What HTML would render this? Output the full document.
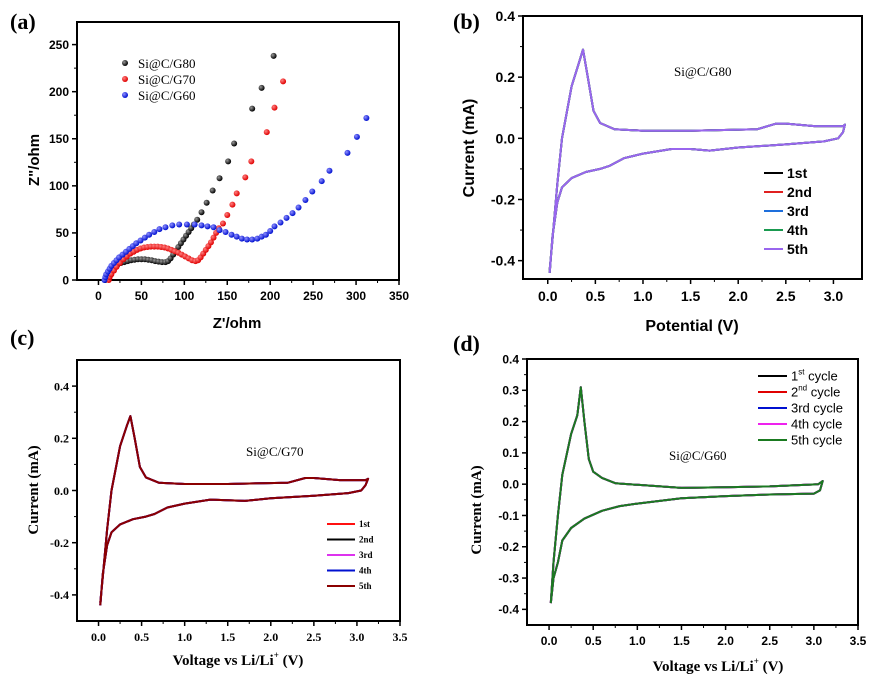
<!DOCTYPE html>
<html><head><meta charset="utf-8"><style>
body{margin:0;background:#fff;width:884px;height:681px;overflow:hidden}
svg{display:block}
.sans{font-family:"Liberation Sans",sans-serif;font-weight:bold}
.serif{font-family:"Liberation Serif",serif}
</style></head><body>
<svg id="fig" width="884" height="681" xmlns="http://www.w3.org/2000/svg">
<defs>
<radialGradient id="gk" cx="35%" cy="35%" r="65%"><stop offset="0" stop-color="#999"/><stop offset="1" stop-color="#000"/></radialGradient>
<radialGradient id="gr" cx="35%" cy="35%" r="65%"><stop offset="0" stop-color="#ff8080"/><stop offset="1" stop-color="#e00000"/></radialGradient>
<radialGradient id="gb" cx="35%" cy="35%" r="65%"><stop offset="0" stop-color="#9090ff"/><stop offset="1" stop-color="#0010d0"/></radialGradient>
</defs>
</svg>
<script>
// ---- Panel (a) EIS data ----
const eisG80 = [[8,0],[9,3],[11,6],[13,9],[16,12],[19,14],[22,16],[26,18],[30,19],[34,20],[38,21],[42,21.5],[46,22],[50,22],[54,22],[58,21.5],[62,21],[66,20],[70,19.5],[74,19],[78,19],[81,20],[84,23],[87,27],[90,31],[93,35],[96,39],[99,43],[102,47],[105,51],[108,55],[111,59],[115,64],[120,72],[126,82],[133,95],[141,108],[151,126],[158,145],[179,182],[190,204],[204,238]];
const eisG70 = [[12,0],[13,3],[15,6],[18,10],[21,14],[25,18],[29,22],[33,25],[37,28],[41,30],[45,32],[49,33.5],[53,34.5],[57,35],[61,35.5],[65,35.5],[69,35.5],[73,35],[77,34.5],[81,33.5],[85,32],[89,30.5],[93,29],[97,27],[101,25],[105,23],[109,21],[113,20],[116,21],[119,24],[122,28],[125,32],[128,36],[131,40],[134,45],[137,50],[140,55],[145,60],[150,69],[156,80],[161,92],[171,109],[178,126],[196,157],[205,183],[215,211]];
const eisG60 = [[7,0],[8,3],[9,6],[11,9],[13,12],[15,15],[18,18],[21,21],[24,24],[28,27],[32,30],[36,33],[40,36],[44,39],[49,42],[54,45],[59,48],[65,51],[71,54],[78,56],[86,58],[94,59],[103,59],[112,59],[120,58],[127,57],[134,56],[141,53],[148,51],[155,48],[161,46],[167,44],[173,43],[179,43],[185,44],[190,46],[195,48],[200,52],[205,57],[212,61],[219,66],[226,71],[233,77],[241,85],[249,94],[260,105],[269,116],[290,135],[301,152],[312,172]];
const aXTicks = [0,50,100,150,200,250,300,350];
const aYTicks = [0,50,100,150,200,250];
const aLegend = ["Si@C/G80","Si@C/G70","Si@C/G60"];
// ---- CV curves (V, mA) ----
const cvB = [[0.02,-0.44],[0.05,-0.32],[0.1,-0.21],[0.15,-0.16],[0.25,-0.13],[0.4,-0.11],[0.55,-0.1],[0.65,-0.09],[0.8,-0.065],[1.0,-0.05],[1.3,-0.035],[1.5,-0.035],[1.7,-0.04],[2.0,-0.03],[2.5,-0.02],[2.9,-0.01],[3.05,0],[3.1,0.02],[3.12,0.045],[3.1,0.04],[2.8,0.04],[2.5,0.048],[2.4,0.048],[2.2,0.03],[1.5,0.025],[1.0,0.025],[0.7,0.03],[0.55,0.05],[0.48,0.09],[0.42,0.2],[0.37,0.29],[0.33,0.25],[0.25,0.17],[0.15,0.0],[0.1,-0.15],[0.05,-0.33],[0.02,-0.43]];
const cvC = [[0.02,-0.44],[0.05,-0.32],[0.1,-0.21],[0.15,-0.16],[0.25,-0.13],[0.4,-0.11],[0.55,-0.1],[0.65,-0.09],[0.8,-0.065],[1.0,-0.05],[1.3,-0.035],[1.5,-0.037],[1.7,-0.04],[2.0,-0.03],[2.5,-0.02],[2.9,-0.01],[3.05,0],[3.1,0.02],[3.13,0.045],[3.1,0.04],[2.8,0.04],[2.5,0.048],[2.4,0.048],[2.2,0.03],[1.5,0.025],[1.0,0.025],[0.7,0.03],[0.55,0.05],[0.48,0.09],[0.42,0.2],[0.37,0.285],[0.33,0.25],[0.25,0.17],[0.15,0.0],[0.1,-0.15],[0.05,-0.33],[0.02,-0.43]];
const cvD = [[0.02,-0.38],[0.05,-0.3],[0.1,-0.25],[0.15,-0.18],[0.25,-0.14],[0.4,-0.11],[0.6,-0.085],[0.8,-0.07],[1.0,-0.062],[1.5,-0.045],[2.0,-0.038],[2.5,-0.033],[3.0,-0.03],[3.07,-0.02],[3.1,0.01],[3.05,0],[2.5,-0.007],[2.0,-0.01],[1.5,-0.012],[1.0,-0.002],[0.75,0.003],[0.6,0.02],[0.5,0.04],[0.45,0.08],[0.4,0.2],[0.36,0.31],[0.32,0.22],[0.25,0.16],[0.15,0.03],[0.1,-0.1],[0.05,-0.25],[0.02,-0.38]];
const bLegend = ["1st","2nd","3rd","4th","5th"];
const bColors = ["#000","#e02020","#1e6fdc","#1a9a50","#9966ee"];
const cLegend = ["1st","2nd","3rd","4th","5th"];
const cColors = ["#ff1010","#000","#dd33ee","#0010d0","#8b0000"];
const dLegend = ["cycle","cycle","3rd cycle","4th cycle","5th cycle"];
const dColors = ["#000","#e00000","#0010d0","#ee22ee","#1a7a20"];
const bXTicks=[0,0.5,1,1.5,2,2.5,3], bYTicks=[-0.4,-0.2,0,0.2,0.4];
const cXTicks=[0,0.5,1,1.5,2,2.5,3,3.5], cYTicks=[-0.4,-0.2,0,0.2,0.4];
const dXTicks=[0,0.5,1,1.5,2,2.5,3,3.5], dYTicks=[-0.4,-0.3,-0.2,-0.1,0,0.1,0.2,0.3,0.4];

const svg=document.getElementById('fig');
const NS="http://www.w3.org/2000/svg";
function mk(tag,attrs,parent){const e=document.createElementNS(NS,tag);for(const k in attrs)e.setAttribute(k,attrs[k]);(parent||svg).appendChild(e);return e;}
function txt(s,x,y,cls,size,anchor,parent){const t=mk('text',{x:x,y:y,'class':cls,'font-size':size,'text-anchor':anchor||'middle'},parent);t.textContent=s;return t;}
function scale(d0,d1,p0,p1){return v=>p0+(v-d0)/(d1-d0)*(p1-p0);}

function axes(g,box,sx,sy,xt,yt,xfmt,yfmt,cls,fs,minorX,minorY){
  const fr=mk('rect',{x:box[0],y:box[1],width:box[2]-box[0],height:box[3]-box[1],fill:'none',stroke:'#000','stroke-width':2},g);
  
  xt.forEach((v,i)=>{const x=sx(v);mk('line',{x1:x,y1:box[3],x2:x,y2:box[3]+5,stroke:'#000','stroke-width':1.5},g);
    const t=txt(xfmt(v),x,box[3]+fs+8,cls,fs,'middle',g);
    if(i<xt.length-1){const m=sx((v+xt[i+1])/2);mk('line',{x1:m,y1:box[3],x2:m,y2:box[3]+3,stroke:'#000','stroke-width':1},g);}});
  yt.forEach((v,i)=>{const y=sy(v);mk('line',{x1:box[0]-5,y1:y,x2:box[0],y2:y,stroke:'#000','stroke-width':1.5},g);
    const t=txt(yfmt(v),box[0]-8,y+fs*0.36,cls,fs,'end',g);
    if(i<yt.length-1){const m=sy((v+yt[i+1])/2);mk('line',{x1:box[0]-3,y1:m,x2:box[0],y2:m,stroke:'#000','stroke-width':1},g);}});
}
function path(g,data,sx,sy,color,w){const d=data.map((p,i)=>(i?'L':'M')+sx(p[0]).toFixed(1)+','+sy(p[1]).toFixed(1)).join('');
  return mk('path',{d:d,fill:'none',stroke:color,'stroke-width':w,'stroke-linejoin':'round'},g);}

// ---- Panel a ----
(function(){
  const g=mk('g',{});
  const box=[77,22,399,280];const sx=scale(-25,350,77,399),sy=scale(0,274,280,22);
  axes(g,box,sx,sy,aXTicks,aYTicks,v=>String(v),v=>String(v),'sans',12);
  [[eisG80,'url(#gk)','g80'],[eisG70,'url(#gr)','g70'],[eisG60,'url(#gb)','g60']].forEach(s=>{
    s[0].forEach(p=>{const c=mk('circle',{cx:sx(p[0]),cy:sy(p[1]),r:3,fill:s[1]},g);
      });});
  ['url(#gk)','url(#gr)','url(#gb)'].forEach((f,i)=>{const c=mk('circle',{cx:125,cy:63+i*16,r:3,fill:f},g);
    
    const t=txt(aLegend[i],138,68+i*16,'serif',13,'start',g);});
  const xt=txt("Z'/ohm",237,328,'sans',15,'middle',g);
  const yt=txt('Z"/ohm',0,0,'sans',15,'middle',g);yt.setAttribute('transform','translate(39,160) rotate(-90)');
  
  const l=txt('(a)',10,29,'serif',22,'start',g);l.setAttribute('font-weight','bold');
})();

function cvPanel(o){
  const g=mk('g',{});
  const sx=scale(o.xd[0],o.xd[1],o.box[0],o.box[2]),sy=scale(o.yd[0],o.yd[1],o.box[3],o.box[1]);
  axes(g,o.box,sx,sy,o.xt,o.yt,v=>v.toFixed(1),v=>v.toFixed(o.ydec),o.tcls,o.tfs);
  o.colors.forEach((c,i)=>{const p=path(g,o.curve,sx,sy,c,2);});
  o.legend.forEach((s,i)=>{const y=o.ly+i*o.lstep;
    const ln=mk('line',{x1:o.lx,y1:y,x2:o.lx+o.llen,y2:y,stroke:o.colors[i],'stroke-width':2},g);
    
    const t=txt(s,o.lx+o.llen+4,y+o.lfs*0.36,o.lcls,o.lfs,'start',g);
    if(o.sup&&o.sup[i]){t.textContent='';const a=mk('tspan',{},t);a.textContent=o.sup[i][0];const b=mk('tspan',{'font-size':8,dy:-6},t);b.textContent=o.sup[i][1];const c2=mk('tspan',{dy:6},t);c2.textContent=' '+s;}});
  const sl=txt(o.sample[0],o.sample[1],o.sample[2],'serif',13,'start',g);
  const xt=txt('',o.xtp[0],o.xtp[1],o.acls,o.afs,'middle',g);
  if(o.liTitle){const a=mk('tspan',{},xt);a.textContent='Voltage vs Li/Li';const b=mk('tspan',{'font-size':9,dy:-7},xt);b.textContent='+';const c=mk('tspan',{dy:7},xt);c.textContent=' (V)';}
  else xt.textContent=o.xtitle;
  const yt=txt('Current (mA)',0,0,o.acls,o.afs,'middle',g);yt.setAttribute('transform','translate('+o.ytp[0]+','+o.ytp[1]+') rotate(-90)');
  
  const l=txt(o.label,o.lp[0],o.lp[1],'serif',22,'start',g);l.setAttribute('font-weight','bold');
}
cvPanel({name:'panel-b-cv',box:[523,16,862,279],xd:[-0.26,3.3],yd:[-0.46,0.4],xt:bXTicks,yt:bYTicks,ydec:1,tcls:'sans',tfs:14,
  curve:cvB,colors:bColors,legend:bLegend,lx:764,ly:173,lstep:19,llen:19,lcls:'sans',lfs:14,
  sample:['Si@C/G80',674,76],xtp:[692,331],xtitle:'Potential (V)',acls:'sans',afs:16,ytp:[474,148],label:'(b)',lp:[453,29]});
cvPanel({name:'panel-c-cv',box:[77,360,400,621],xd:[-0.25,3.5],yd:[-0.5,0.5],xt:cXTicks,yt:cYTicks,ydec:1,tcls:'serif sb',tfs:12,
  curve:cvC,colors:cColors,legend:cLegend,lx:327,ly:524,lstep:15.5,llen:28,lcls:'serif sb',lfs:9,
  sample:['Si@C/G70',246,456],xtp:[238,665],liTitle:true,acls:'serif sb',afs:15,ytp:[38,490],label:'(c)',lp:[10,345]});
cvPanel({name:'panel-d-cv',box:[527,359,858,625],xd:[-0.25,3.5],yd:[-0.45,0.4],xt:dXTicks,yt:dYTicks,ydec:1,tcls:'sans',tfs:12,
  curve:cvD,colors:dColors,legend:dLegend,sup:[['1','st'],['2','nd']],lx:758,ly:376,lstep:16,llen:29,lcls:'sans2',lfs:13,
  sample:['Si@C/G60',669,460],xtp:[718,671],liTitle:true,acls:'serif sb',afs:15,ytp:[481,510],label:'(d)',lp:[453,351]});
document.querySelectorAll('.sb').forEach(e=>{e.setAttribute('font-weight','bold');e.setAttribute('font-family','Liberation Serif, serif');});
document.querySelectorAll('.sans2').forEach(e=>{e.setAttribute('font-family','Liberation Sans, sans-serif');});
</script>
</body></html>
